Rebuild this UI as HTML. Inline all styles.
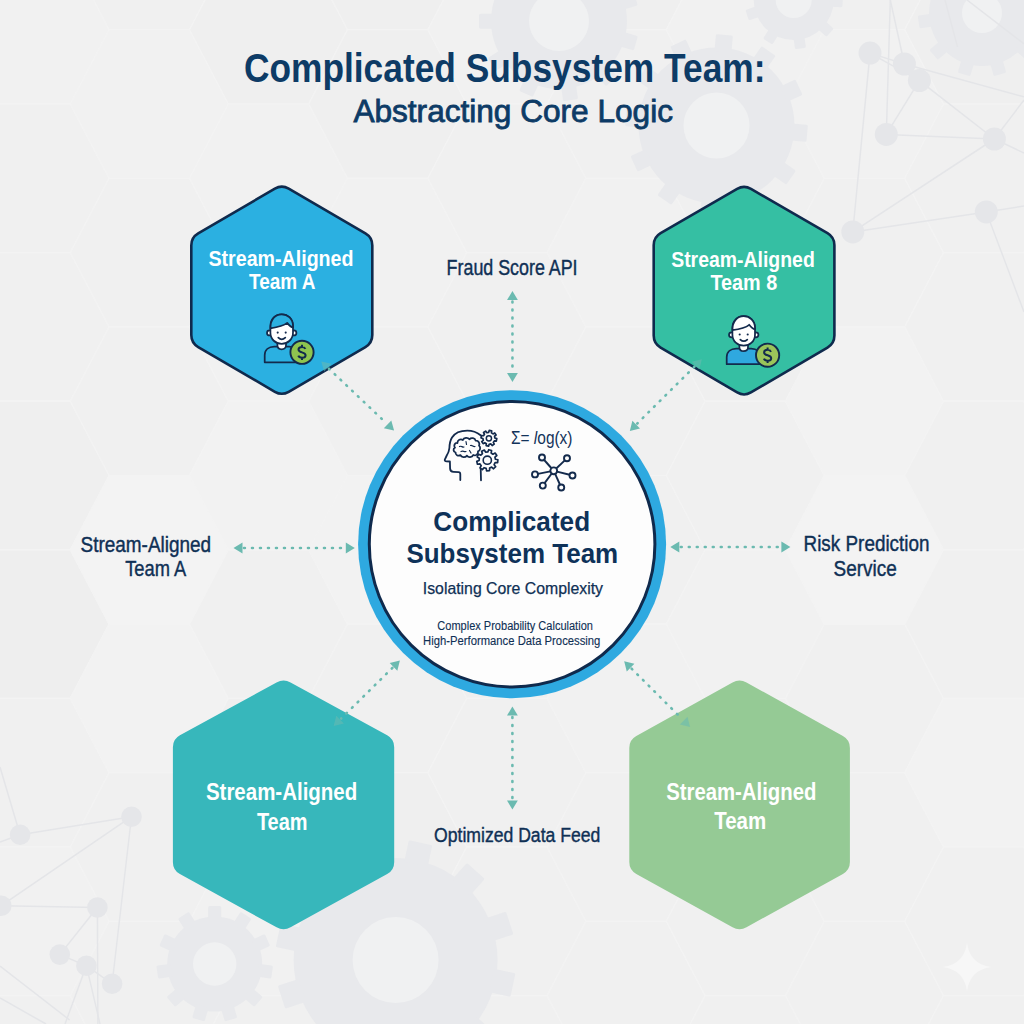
<!DOCTYPE html>
<html><head><meta charset="utf-8"><title>Complicated Subsystem Team</title>
<style>html,body{margin:0;padding:0;width:1024px;height:1024px;overflow:hidden;background:#f0f0f0;font-family:"Liberation Sans",sans-serif}svg{display:block}</style>
</head><body>
<svg width="1024" height="1024" viewBox="0 0 1024 1024" font-family="Liberation Sans, sans-serif">
<rect width="1024" height="1024" fill="#f0f0f0"/>
<g stroke="#f3f3f3" stroke-width="1.2" fill="none">
<polygon points="-48.9,29.7 -10.1,-44.6 70.3,-44.6 109.1,29.7 70.3,104.0 -10.1,104.0" fill="#f1f1f1"/>
<polygon points="-48.9,178.3 -10.1,104.0 70.3,104.0 109.1,178.3 70.3,252.6 -10.1,252.6" fill="#f0f0f0"/>
<polygon points="-48.9,326.9 -10.1,252.6 70.3,252.6 109.1,326.9 70.3,401.2 -10.1,401.2" fill="#f0f0f0"/>
<polygon points="-48.9,475.5 -10.1,401.2 70.3,401.2 109.1,475.5 70.3,549.8 -10.1,549.8" fill="#efefef"/>
<polygon points="-48.9,624.1 -10.1,549.8 70.3,549.8 109.1,624.1 70.3,698.4 -10.1,698.4" fill="#eeeeee"/>
<polygon points="-48.9,772.7 -10.1,698.4 70.3,698.4 109.1,772.7 70.3,847.0 -10.1,847.0" fill="#f0f0f0"/>
<polygon points="-48.9,921.3 -10.1,847.0 70.3,847.0 109.1,921.3 70.3,995.6 -10.1,995.6" fill="#f1f1f1"/>
<polygon points="-48.9,1069.9 -10.1,995.6 70.3,995.6 109.1,1069.9 70.3,1144.2 -10.1,1144.2" fill="#f0f0f0"/>
<polygon points="70.3,-44.6 109.1,-118.9 189.5,-118.9 228.3,-44.6 189.5,29.7 109.1,29.7" fill="#f0f0f0"/>
<polygon points="70.3,104.0 109.1,29.7 189.5,29.7 228.3,104.0 189.5,178.3 109.1,178.3" fill="#f1f1f1"/>
<polygon points="70.3,252.6 109.1,178.3 189.5,178.3 228.3,252.6 189.5,326.9 109.1,326.9" fill="#f0f0f0"/>
<polygon points="70.3,401.2 109.1,326.9 189.5,326.9 228.3,401.2 189.5,475.5 109.1,475.5" fill="#f0f0f0"/>
<polygon points="70.3,549.8 109.1,475.5 189.5,475.5 228.3,549.8 189.5,624.1 109.1,624.1" fill="#f3f3f3"/>
<polygon points="70.3,698.4 109.1,624.1 189.5,624.1 228.3,698.4 189.5,772.7 109.1,772.7" fill="#f2f2f2"/>
<polygon points="70.3,847.0 109.1,772.7 189.5,772.7 228.3,847.0 189.5,921.3 109.1,921.3" fill="#f0f0f0"/>
<polygon points="70.3,995.6 109.1,921.3 189.5,921.3 228.3,995.6 189.5,1069.9 109.1,1069.9" fill="#f0f0f0"/>
<polygon points="189.5,29.7 228.3,-44.6 308.7,-44.6 347.5,29.7 308.7,104.0 228.3,104.0" fill="#efefef"/>
<polygon points="189.5,178.3 228.3,104.0 308.7,104.0 347.5,178.3 308.7,252.6 228.3,252.6" fill="#f1f1f1"/>
<polygon points="189.5,326.9 228.3,252.6 308.7,252.6 347.5,326.9 308.7,401.2 228.3,401.2" fill="#f1f1f1"/>
<polygon points="189.5,475.5 228.3,401.2 308.7,401.2 347.5,475.5 308.7,549.8 228.3,549.8" fill="#f2f2f2"/>
<polygon points="189.5,624.1 228.3,549.8 308.7,549.8 347.5,624.1 308.7,698.4 228.3,698.4" fill="#f0f0f0"/>
<polygon points="189.5,772.7 228.3,698.4 308.7,698.4 347.5,772.7 308.7,847.0 228.3,847.0" fill="#efefef"/>
<polygon points="189.5,921.3 228.3,847.0 308.7,847.0 347.5,921.3 308.7,995.6 228.3,995.6" fill="#f1f1f1"/>
<polygon points="189.5,1069.9 228.3,995.6 308.7,995.6 347.5,1069.9 308.7,1144.2 228.3,1144.2" fill="#f0f0f0"/>
<polygon points="308.7,-44.6 347.5,-118.9 427.9,-118.9 466.7,-44.6 427.9,29.7 347.5,29.7" fill="#efefef"/>
<polygon points="308.7,104.0 347.5,29.7 427.9,29.7 466.7,104.0 427.9,178.3 347.5,178.3" fill="#efefef"/>
<polygon points="308.7,252.6 347.5,178.3 427.9,178.3 466.7,252.6 427.9,326.9 347.5,326.9" fill="#f1f1f1"/>
<polygon points="308.7,401.2 347.5,326.9 427.9,326.9 466.7,401.2 427.9,475.5 347.5,475.5" fill="#f0f0f0"/>
<polygon points="308.7,549.8 347.5,475.5 427.9,475.5 466.7,549.8 427.9,624.1 347.5,624.1" fill="#f2f2f2"/>
<polygon points="308.7,698.4 347.5,624.1 427.9,624.1 466.7,698.4 427.9,772.7 347.5,772.7" fill="#f0f0f0"/>
<polygon points="308.7,847.0 347.5,772.7 427.9,772.7 466.7,847.0 427.9,921.3 347.5,921.3" fill="#efefef"/>
<polygon points="308.7,995.6 347.5,921.3 427.9,921.3 466.7,995.6 427.9,1069.9 347.5,1069.9" fill="#f0f0f0"/>
<polygon points="427.9,29.7 466.7,-44.6 547.1,-44.6 585.9,29.7 547.1,104.0 466.7,104.0" fill="#f1f1f1"/>
<polygon points="427.9,178.3 466.7,104.0 547.1,104.0 585.9,178.3 547.1,252.6 466.7,252.6" fill="#f0f0f0"/>
<polygon points="427.9,326.9 466.7,252.6 547.1,252.6 585.9,326.9 547.1,401.2 466.7,401.2" fill="#f0f0f0"/>
<polygon points="427.9,475.5 466.7,401.2 547.1,401.2 585.9,475.5 547.1,549.8 466.7,549.8" fill="#f0f0f0"/>
<polygon points="427.9,624.1 466.7,549.8 547.1,549.8 585.9,624.1 547.1,698.4 466.7,698.4" fill="#efefef"/>
<polygon points="427.9,772.7 466.7,698.4 547.1,698.4 585.9,772.7 547.1,847.0 466.7,847.0" fill="#f0f0f0"/>
<polygon points="427.9,921.3 466.7,847.0 547.1,847.0 585.9,921.3 547.1,995.6 466.7,995.6" fill="#f0f0f0"/>
<polygon points="427.9,1069.9 466.7,995.6 547.1,995.6 585.9,1069.9 547.1,1144.2 466.7,1144.2" fill="#f0f0f0"/>
<polygon points="547.1,-44.6 585.9,-118.9 666.3,-118.9 705.1,-44.6 666.3,29.7 585.9,29.7" fill="#efefef"/>
<polygon points="547.1,104.0 585.9,29.7 666.3,29.7 705.1,104.0 666.3,178.3 585.9,178.3" fill="#f0f0f0"/>
<polygon points="547.1,252.6 585.9,178.3 666.3,178.3 705.1,252.6 666.3,326.9 585.9,326.9" fill="#f1f1f1"/>
<polygon points="547.1,401.2 585.9,326.9 666.3,326.9 705.1,401.2 666.3,475.5 585.9,475.5" fill="#f0f0f0"/>
<polygon points="547.1,549.8 585.9,475.5 666.3,475.5 705.1,549.8 666.3,624.1 585.9,624.1" fill="#f0f0f0"/>
<polygon points="547.1,698.4 585.9,624.1 666.3,624.1 705.1,698.4 666.3,772.7 585.9,772.7" fill="#f1f1f1"/>
<polygon points="547.1,847.0 585.9,772.7 666.3,772.7 705.1,847.0 666.3,921.3 585.9,921.3" fill="#f0f0f0"/>
<polygon points="547.1,995.6 585.9,921.3 666.3,921.3 705.1,995.6 666.3,1069.9 585.9,1069.9" fill="#f0f0f0"/>
<polygon points="666.3,29.7 705.1,-44.6 785.5,-44.6 824.3,29.7 785.5,104.0 705.1,104.0" fill="#f1f1f1"/>
<polygon points="666.3,178.3 705.1,104.0 785.5,104.0 824.3,178.3 785.5,252.6 705.1,252.6" fill="#f0f0f0"/>
<polygon points="666.3,326.9 705.1,252.6 785.5,252.6 824.3,326.9 785.5,401.2 705.1,401.2" fill="#efefef"/>
<polygon points="666.3,475.5 705.1,401.2 785.5,401.2 824.3,475.5 785.5,549.8 705.1,549.8" fill="#f0f0f0"/>
<polygon points="666.3,624.1 705.1,549.8 785.5,549.8 824.3,624.1 785.5,698.4 705.1,698.4" fill="#f1f1f1"/>
<polygon points="666.3,772.7 705.1,698.4 785.5,698.4 824.3,772.7 785.5,847.0 705.1,847.0" fill="#f0f0f0"/>
<polygon points="666.3,921.3 705.1,847.0 785.5,847.0 824.3,921.3 785.5,995.6 705.1,995.6" fill="#f0f0f0"/>
<polygon points="666.3,1069.9 705.1,995.6 785.5,995.6 824.3,1069.9 785.5,1144.2 705.1,1144.2" fill="#f0f0f0"/>
<polygon points="785.5,-44.6 824.3,-118.9 904.7,-118.9 943.5,-44.6 904.7,29.7 824.3,29.7" fill="#f0f0f0"/>
<polygon points="785.5,104.0 824.3,29.7 904.7,29.7 943.5,104.0 904.7,178.3 824.3,178.3" fill="#f1f1f1"/>
<polygon points="785.5,252.6 824.3,178.3 904.7,178.3 943.5,252.6 904.7,326.9 824.3,326.9" fill="#f0f0f0"/>
<polygon points="785.5,401.2 824.3,326.9 904.7,326.9 943.5,401.2 904.7,475.5 824.3,475.5" fill="#f2f2f2"/>
<polygon points="785.5,549.8 824.3,475.5 904.7,475.5 943.5,549.8 904.7,624.1 824.3,624.1" fill="#f3f3f3"/>
<polygon points="785.5,698.4 824.3,624.1 904.7,624.1 943.5,698.4 904.7,772.7 824.3,772.7" fill="#f0f0f0"/>
<polygon points="785.5,847.0 824.3,772.7 904.7,772.7 943.5,847.0 904.7,921.3 824.3,921.3" fill="#f0f0f0"/>
<polygon points="785.5,995.6 824.3,921.3 904.7,921.3 943.5,995.6 904.7,1069.9 824.3,1069.9" fill="#f0f0f0"/>
<polygon points="904.7,29.7 943.5,-44.6 1023.9,-44.6 1062.7,29.7 1023.9,104.0 943.5,104.0" fill="#efefef"/>
<polygon points="904.7,178.3 943.5,104.0 1023.9,104.0 1062.7,178.3 1023.9,252.6 943.5,252.6" fill="#f0f0f0"/>
<polygon points="904.7,326.9 943.5,252.6 1023.9,252.6 1062.7,326.9 1023.9,401.2 943.5,401.2" fill="#f0f0f0"/>
<polygon points="904.7,475.5 943.5,401.2 1023.9,401.2 1062.7,475.5 1023.9,549.8 943.5,549.8" fill="#f0f0f0"/>
<polygon points="904.7,624.1 943.5,549.8 1023.9,549.8 1062.7,624.1 1023.9,698.4 943.5,698.4" fill="#f0f0f0"/>
<polygon points="904.7,772.7 943.5,698.4 1023.9,698.4 1062.7,772.7 1023.9,847.0 943.5,847.0" fill="#f2f2f2"/>
<polygon points="904.7,921.3 943.5,847.0 1023.9,847.0 1062.7,921.3 1023.9,995.6 943.5,995.6" fill="#f0f0f0"/>
<polygon points="904.7,1069.9 943.5,995.6 1023.9,995.6 1062.7,1069.9 1023.9,1144.2 943.5,1144.2" fill="#f0f0f0"/>
<polygon points="1023.9,-44.6 1062.7,-118.9 1143.1,-118.9 1181.9,-44.6 1143.1,29.7 1062.7,29.7" fill="#f0f0f0"/>
<polygon points="1023.9,104.0 1062.7,29.7 1143.1,29.7 1181.9,104.0 1143.1,178.3 1062.7,178.3" fill="#f1f1f1"/>
<polygon points="1023.9,252.6 1062.7,178.3 1143.1,178.3 1181.9,252.6 1143.1,326.9 1062.7,326.9" fill="#f0f0f0"/>
<polygon points="1023.9,401.2 1062.7,326.9 1143.1,326.9 1181.9,401.2 1143.1,475.5 1062.7,475.5" fill="#efefef"/>
<polygon points="1023.9,549.8 1062.7,475.5 1143.1,475.5 1181.9,549.8 1143.1,624.1 1062.7,624.1" fill="#f0f0f0"/>
<polygon points="1023.9,698.4 1062.7,624.1 1143.1,624.1 1181.9,698.4 1143.1,772.7 1062.7,772.7" fill="#f0f0f0"/>
<polygon points="1023.9,847.0 1062.7,772.7 1143.1,772.7 1181.9,847.0 1143.1,921.3 1062.7,921.3" fill="#f1f1f1"/>
<polygon points="1023.9,995.6 1062.7,921.3 1143.1,921.3 1181.9,995.6 1143.1,1069.9 1062.7,1069.9" fill="#f0f0f0"/>
</g>
<g opacity="1.00">
<circle cx="559.00" cy="21.00" r="68.00" fill="#e8e9ec"/>
<rect x="551.50" y="-59.00" width="15.00" height="16.00" rx="1.5" fill="#e8e9ec" transform="rotate(8.00 559.00 21.00)"/>
<rect x="551.50" y="-59.00" width="15.00" height="16.00" rx="1.5" fill="#e8e9ec" transform="rotate(40.73 559.00 21.00)"/>
<rect x="551.50" y="-59.00" width="15.00" height="16.00" rx="1.5" fill="#e8e9ec" transform="rotate(73.45 559.00 21.00)"/>
<rect x="551.50" y="-59.00" width="15.00" height="16.00" rx="1.5" fill="#e8e9ec" transform="rotate(106.18 559.00 21.00)"/>
<rect x="551.50" y="-59.00" width="15.00" height="16.00" rx="1.5" fill="#e8e9ec" transform="rotate(138.91 559.00 21.00)"/>
<rect x="551.50" y="-59.00" width="15.00" height="16.00" rx="1.5" fill="#e8e9ec" transform="rotate(171.64 559.00 21.00)"/>
<rect x="551.50" y="-59.00" width="15.00" height="16.00" rx="1.5" fill="#e8e9ec" transform="rotate(204.36 559.00 21.00)"/>
<rect x="551.50" y="-59.00" width="15.00" height="16.00" rx="1.5" fill="#e8e9ec" transform="rotate(237.09 559.00 21.00)"/>
<rect x="551.50" y="-59.00" width="15.00" height="16.00" rx="1.5" fill="#e8e9ec" transform="rotate(269.82 559.00 21.00)"/>
<rect x="551.50" y="-59.00" width="15.00" height="16.00" rx="1.5" fill="#e8e9ec" transform="rotate(302.55 559.00 21.00)"/>
<rect x="551.50" y="-59.00" width="15.00" height="16.00" rx="1.5" fill="#e8e9ec" transform="rotate(335.27 559.00 21.00)"/>
<circle cx="559.00" cy="21.00" r="30.00" fill="#f0f1f2"/>
</g>
<g opacity="1.00">
<circle cx="716.50" cy="125.50" r="78.00" fill="#e8e9ec"/>
<rect x="708.00" y="34.50" width="17.00" height="17.00" rx="1.5" fill="#e8e9ec" transform="rotate(5.00 716.50 125.50)"/>
<rect x="708.00" y="34.50" width="17.00" height="17.00" rx="1.5" fill="#e8e9ec" transform="rotate(35.00 716.50 125.50)"/>
<rect x="708.00" y="34.50" width="17.00" height="17.00" rx="1.5" fill="#e8e9ec" transform="rotate(65.00 716.50 125.50)"/>
<rect x="708.00" y="34.50" width="17.00" height="17.00" rx="1.5" fill="#e8e9ec" transform="rotate(95.00 716.50 125.50)"/>
<rect x="708.00" y="34.50" width="17.00" height="17.00" rx="1.5" fill="#e8e9ec" transform="rotate(125.00 716.50 125.50)"/>
<rect x="708.00" y="34.50" width="17.00" height="17.00" rx="1.5" fill="#e8e9ec" transform="rotate(155.00 716.50 125.50)"/>
<rect x="708.00" y="34.50" width="17.00" height="17.00" rx="1.5" fill="#e8e9ec" transform="rotate(185.00 716.50 125.50)"/>
<rect x="708.00" y="34.50" width="17.00" height="17.00" rx="1.5" fill="#e8e9ec" transform="rotate(215.00 716.50 125.50)"/>
<rect x="708.00" y="34.50" width="17.00" height="17.00" rx="1.5" fill="#e8e9ec" transform="rotate(245.00 716.50 125.50)"/>
<rect x="708.00" y="34.50" width="17.00" height="17.00" rx="1.5" fill="#e8e9ec" transform="rotate(275.00 716.50 125.50)"/>
<rect x="708.00" y="34.50" width="17.00" height="17.00" rx="1.5" fill="#e8e9ec" transform="rotate(305.00 716.50 125.50)"/>
<rect x="708.00" y="34.50" width="17.00" height="17.00" rx="1.5" fill="#e8e9ec" transform="rotate(335.00 716.50 125.50)"/>
<circle cx="716.50" cy="125.50" r="33.00" fill="#f0f1f2"/>
</g>
<g opacity="1.00">
<circle cx="793.70" cy="0.00" r="40.00" fill="#e8e9ec"/>
<rect x="788.20" y="-49.00" width="11.00" height="13.00" rx="1.5" fill="#e8e9ec" transform="rotate(12.00 793.70 0.00)"/>
<rect x="788.20" y="-49.00" width="11.00" height="13.00" rx="1.5" fill="#e8e9ec" transform="rotate(52.00 793.70 0.00)"/>
<rect x="788.20" y="-49.00" width="11.00" height="13.00" rx="1.5" fill="#e8e9ec" transform="rotate(92.00 793.70 0.00)"/>
<rect x="788.20" y="-49.00" width="11.00" height="13.00" rx="1.5" fill="#e8e9ec" transform="rotate(132.00 793.70 0.00)"/>
<rect x="788.20" y="-49.00" width="11.00" height="13.00" rx="1.5" fill="#e8e9ec" transform="rotate(172.00 793.70 0.00)"/>
<rect x="788.20" y="-49.00" width="11.00" height="13.00" rx="1.5" fill="#e8e9ec" transform="rotate(212.00 793.70 0.00)"/>
<rect x="788.20" y="-49.00" width="11.00" height="13.00" rx="1.5" fill="#e8e9ec" transform="rotate(252.00 793.70 0.00)"/>
<rect x="788.20" y="-49.00" width="11.00" height="13.00" rx="1.5" fill="#e8e9ec" transform="rotate(292.00 793.70 0.00)"/>
<rect x="788.20" y="-49.00" width="11.00" height="13.00" rx="1.5" fill="#e8e9ec" transform="rotate(332.00 793.70 0.00)"/>
<circle cx="793.70" cy="0.00" r="18.00" fill="#f0f1f2"/>
</g>
<g opacity="1.00">
<circle cx="982.00" cy="13.00" r="53.00" fill="#e8e9ec"/>
<rect x="975.50" y="-51.00" width="13.00" height="15.00" rx="1.5" fill="#e8e9ec" transform="rotate(0.00 982.00 13.00)"/>
<rect x="975.50" y="-51.00" width="13.00" height="15.00" rx="1.5" fill="#e8e9ec" transform="rotate(32.73 982.00 13.00)"/>
<rect x="975.50" y="-51.00" width="13.00" height="15.00" rx="1.5" fill="#e8e9ec" transform="rotate(65.45 982.00 13.00)"/>
<rect x="975.50" y="-51.00" width="13.00" height="15.00" rx="1.5" fill="#e8e9ec" transform="rotate(98.18 982.00 13.00)"/>
<rect x="975.50" y="-51.00" width="13.00" height="15.00" rx="1.5" fill="#e8e9ec" transform="rotate(130.91 982.00 13.00)"/>
<rect x="975.50" y="-51.00" width="13.00" height="15.00" rx="1.5" fill="#e8e9ec" transform="rotate(163.64 982.00 13.00)"/>
<rect x="975.50" y="-51.00" width="13.00" height="15.00" rx="1.5" fill="#e8e9ec" transform="rotate(196.36 982.00 13.00)"/>
<rect x="975.50" y="-51.00" width="13.00" height="15.00" rx="1.5" fill="#e8e9ec" transform="rotate(229.09 982.00 13.00)"/>
<rect x="975.50" y="-51.00" width="13.00" height="15.00" rx="1.5" fill="#e8e9ec" transform="rotate(261.82 982.00 13.00)"/>
<rect x="975.50" y="-51.00" width="13.00" height="15.00" rx="1.5" fill="#e8e9ec" transform="rotate(294.55 982.00 13.00)"/>
<rect x="975.50" y="-51.00" width="13.00" height="15.00" rx="1.5" fill="#e8e9ec" transform="rotate(327.27 982.00 13.00)"/>
<circle cx="982.00" cy="13.00" r="20.00" fill="#f0f1f2"/>
</g>
<g opacity="1.00">
<circle cx="395.60" cy="960.10" r="102.00" fill="#e8e9ec"/>
<rect x="383.60" y="840.10" width="24.00" height="22.00" rx="1.5" fill="#e8e9ec" transform="rotate(12.00 395.60 960.10)"/>
<rect x="383.60" y="840.10" width="24.00" height="22.00" rx="1.5" fill="#e8e9ec" transform="rotate(42.00 395.60 960.10)"/>
<rect x="383.60" y="840.10" width="24.00" height="22.00" rx="1.5" fill="#e8e9ec" transform="rotate(72.00 395.60 960.10)"/>
<rect x="383.60" y="840.10" width="24.00" height="22.00" rx="1.5" fill="#e8e9ec" transform="rotate(102.00 395.60 960.10)"/>
<rect x="383.60" y="840.10" width="24.00" height="22.00" rx="1.5" fill="#e8e9ec" transform="rotate(132.00 395.60 960.10)"/>
<rect x="383.60" y="840.10" width="24.00" height="22.00" rx="1.5" fill="#e8e9ec" transform="rotate(162.00 395.60 960.10)"/>
<rect x="383.60" y="840.10" width="24.00" height="22.00" rx="1.5" fill="#e8e9ec" transform="rotate(192.00 395.60 960.10)"/>
<rect x="383.60" y="840.10" width="24.00" height="22.00" rx="1.5" fill="#e8e9ec" transform="rotate(222.00 395.60 960.10)"/>
<rect x="383.60" y="840.10" width="24.00" height="22.00" rx="1.5" fill="#e8e9ec" transform="rotate(252.00 395.60 960.10)"/>
<rect x="383.60" y="840.10" width="24.00" height="22.00" rx="1.5" fill="#e8e9ec" transform="rotate(282.00 395.60 960.10)"/>
<rect x="383.60" y="840.10" width="24.00" height="22.00" rx="1.5" fill="#e8e9ec" transform="rotate(312.00 395.60 960.10)"/>
<rect x="383.60" y="840.10" width="24.00" height="22.00" rx="1.5" fill="#e8e9ec" transform="rotate(342.00 395.60 960.10)"/>
<circle cx="395.60" cy="960.10" r="43.00" fill="#f0f1f2"/>
</g>
<g opacity="1.00">
<circle cx="214.70" cy="964.00" r="47.50" fill="#e8e9ec"/>
<rect x="208.20" y="906.00" width="13.00" height="14.50" rx="1.5" fill="#e8e9ec" transform="rotate(0.00 214.70 964.00)"/>
<rect x="208.20" y="906.00" width="13.00" height="14.50" rx="1.5" fill="#e8e9ec" transform="rotate(32.73 214.70 964.00)"/>
<rect x="208.20" y="906.00" width="13.00" height="14.50" rx="1.5" fill="#e8e9ec" transform="rotate(65.45 214.70 964.00)"/>
<rect x="208.20" y="906.00" width="13.00" height="14.50" rx="1.5" fill="#e8e9ec" transform="rotate(98.18 214.70 964.00)"/>
<rect x="208.20" y="906.00" width="13.00" height="14.50" rx="1.5" fill="#e8e9ec" transform="rotate(130.91 214.70 964.00)"/>
<rect x="208.20" y="906.00" width="13.00" height="14.50" rx="1.5" fill="#e8e9ec" transform="rotate(163.64 214.70 964.00)"/>
<rect x="208.20" y="906.00" width="13.00" height="14.50" rx="1.5" fill="#e8e9ec" transform="rotate(196.36 214.70 964.00)"/>
<rect x="208.20" y="906.00" width="13.00" height="14.50" rx="1.5" fill="#e8e9ec" transform="rotate(229.09 214.70 964.00)"/>
<rect x="208.20" y="906.00" width="13.00" height="14.50" rx="1.5" fill="#e8e9ec" transform="rotate(261.82 214.70 964.00)"/>
<rect x="208.20" y="906.00" width="13.00" height="14.50" rx="1.5" fill="#e8e9ec" transform="rotate(294.55 214.70 964.00)"/>
<rect x="208.20" y="906.00" width="13.00" height="14.50" rx="1.5" fill="#e8e9ec" transform="rotate(327.27 214.70 964.00)"/>
<circle cx="214.70" cy="964.00" r="21.70" fill="#f0f1f2"/>
</g>
<g stroke="#e4e5e8" stroke-width="1.50" fill="none">
<line x1="870.0" y1="53.1" x2="852.8" y2="231.9"/>
<line x1="870.0" y1="53.1" x2="904.4" y2="64.0"/>
<line x1="904.4" y1="64.0" x2="919.4" y2="80.6"/>
<line x1="870.0" y1="53.1" x2="919.4" y2="80.6"/>
<line x1="919.4" y1="80.6" x2="994.4" y2="139.0"/>
<line x1="919.4" y1="80.6" x2="886.3" y2="134.4"/>
<line x1="886.3" y1="134.4" x2="994.4" y2="139.0"/>
<line x1="852.8" y1="231.9" x2="994.4" y2="139.0"/>
<line x1="852.8" y1="231.9" x2="986.3" y2="211.9"/>
<line x1="890.3" y1="0.0" x2="886.3" y2="134.4"/>
<line x1="890.3" y1="0.0" x2="904.4" y2="64.0"/>
<line x1="904.4" y1="64.0" x2="1024.0" y2="96.9"/>
<line x1="994.4" y1="139.0" x2="1024.0" y2="100.0"/>
<line x1="994.4" y1="139.0" x2="1024.0" y2="153.0"/>
<line x1="986.3" y1="211.9" x2="1024.0" y2="206.0"/>
<line x1="986.3" y1="211.9" x2="1024.0" y2="312.0"/>
<line x1="967.0" y1="0.0" x2="1024.0" y2="43.8"/>
<line x1="945.0" y1="0.0" x2="957.5" y2="46.9"/>
</g>
<g fill="#e5e6e9">
<circle cx="870.0" cy="53.1" r="11.5"/>
<circle cx="904.4" cy="64.0" r="11.5"/>
<circle cx="919.4" cy="80.6" r="11.5"/>
<circle cx="886.3" cy="134.4" r="11.5"/>
<circle cx="994.4" cy="139.0" r="11.5"/>
<circle cx="852.8" cy="231.9" r="11.5"/>
<circle cx="986.3" cy="211.9" r="11.5"/>
</g>
<g stroke="#e4e5e8" stroke-width="1.50" fill="none">
<line x1="20.1" y1="834.8" x2="131.5" y2="816.7"/>
<line x1="131.5" y1="816.7" x2="1.3" y2="905.7"/>
<line x1="131.5" y1="816.7" x2="112.1" y2="983.8"/>
<line x1="1.3" y1="905.7" x2="97.4" y2="907.5"/>
<line x1="97.4" y1="907.5" x2="59.8" y2="954.6"/>
<line x1="59.8" y1="954.6" x2="86.4" y2="965.7"/>
<line x1="86.4" y1="965.7" x2="112.1" y2="983.8"/>
<line x1="97.4" y1="907.5" x2="97.9" y2="1024.0"/>
<line x1="20.1" y1="834.8" x2="0.0" y2="767.0"/>
<line x1="0.0" y1="842.0" x2="20.1" y2="834.8"/>
<line x1="86.4" y1="965.7" x2="65.0" y2="1024.0"/>
<line x1="86.4" y1="965.7" x2="100.0" y2="1024.0"/>
<line x1="0.0" y1="966.0" x2="69.6" y2="1020.0"/>
<line x1="0.0" y1="998.0" x2="46.0" y2="1024.0"/>
</g>
<g fill="#e5e6e9">
<circle cx="20.1" cy="834.8" r="10.3"/>
<circle cx="131.5" cy="816.7" r="10.3"/>
<circle cx="1.3" cy="905.7" r="10.3"/>
<circle cx="97.4" cy="907.5" r="10.3"/>
<circle cx="59.8" cy="954.6" r="10.3"/>
<circle cx="86.4" cy="965.7" r="10.3"/>
<circle cx="112.1" cy="983.8" r="10.3"/>
</g>
<path d="M967 943 C969 957 977 965 991 967 C977 969 969 977 967 991 C965 977 957 969 943 967 C957 965 965 957 967 943 Z" fill="#f7f7f7"/>
<path d="M274.89 188.64 Q281.80 184.60 288.71 188.64 L365.39 233.46 Q372.30 237.50 372.30 245.50 L372.30 335.00 Q372.30 343.00 365.39 347.03 L288.71 391.77 Q281.80 395.80 274.89 391.77 L198.21 347.03 Q191.30 343.00 191.30 335.00 L191.30 245.50 Q191.30 237.50 198.21 233.46 Z" fill="#2bb0e1" stroke="#0f2a4d" stroke-width="2.6"/>
<path d="M737.13 188.91 Q744.05 184.90 750.97 188.91 L827.48 233.19 Q834.40 237.20 834.40 245.20 L834.40 335.60 Q834.40 343.60 827.50 347.64 L750.95 392.46 Q744.05 396.50 737.15 392.46 L660.60 347.64 Q653.70 343.60 653.70 335.60 L653.70 245.20 Q653.70 237.20 660.62 233.19 Z" fill="#35bfa3" stroke="#0f2a4d" stroke-width="2.6"/>
<path d="M276.53 682.44 Q283.55 678.60 290.57 682.44 L387.18 735.36 Q394.20 739.20 394.20 747.20 L394.20 862.20 Q394.20 870.20 387.19 874.06 L290.56 927.34 Q283.55 931.20 276.54 927.34 L179.91 874.06 Q172.90 870.20 172.90 862.20 L172.90 747.20 Q172.90 739.20 179.92 735.36 Z" fill="#37b7bb"/>
<path d="M732.51 682.49 Q739.50 678.60 746.49 682.49 L842.91 736.11 Q849.90 740.00 849.90 748.00 L849.90 862.00 Q849.90 870.00 842.90 873.88 L746.50 927.32 Q739.50 931.20 732.51 927.32 L636.29 873.88 Q629.30 870.00 629.30 862.00 L629.30 748.00 Q629.30 740.00 636.29 736.11 Z" fill="#95ca95"/>
<circle cx="512.1" cy="544.2" r="154" fill="#2ea9e0"/>
<circle cx="512.1" cy="544.2" r="142.8" fill="#fdfdfd" stroke="#0f2a4d" stroke-width="3"/>
<line x1="512.45" y1="301.50" x2="512.45" y2="371.50" stroke="#6bbab0" stroke-width="2.6" stroke-dasharray="0.9 7.1" stroke-linecap="round"/><polygon points="512.45,291.00 507.05,300.00 517.85,300.00" fill="#6bbab0" opacity="1.00"/><polygon points="512.45,382.00 507.05,373.00 517.85,373.00" fill="#6bbab0" opacity="1.00"/>
<line x1="512.40" y1="717.10" x2="512.40" y2="799.00" stroke="#6bbab0" stroke-width="2.6" stroke-dasharray="0.9 7.1" stroke-linecap="round"/><polygon points="512.40,706.60 507.00,715.60 517.80,715.60" fill="#6bbab0" opacity="1.00"/><polygon points="512.40,809.50 507.00,800.50 517.80,800.50" fill="#6bbab0" opacity="1.00"/>
<line x1="244.00" y1="548.00" x2="344.30" y2="548.00" stroke="#6bbab0" stroke-width="2.6" stroke-dasharray="0.9 7.1" stroke-linecap="round"/><polygon points="233.50,548.00 242.50,553.40 242.50,542.60" fill="#6bbab0" opacity="1.00"/><polygon points="354.80,548.00 345.80,553.40 345.80,542.60" fill="#6bbab0" opacity="1.00"/>
<line x1="680.80" y1="547.00" x2="779.90" y2="547.00" stroke="#6bbab0" stroke-width="2.6" stroke-dasharray="0.9 7.1" stroke-linecap="round"/><polygon points="670.30,547.00 679.30,552.40 679.30,541.60" fill="#6bbab0" opacity="1.00"/><polygon points="790.40,547.00 781.40,552.40 781.40,541.60" fill="#6bbab0" opacity="1.00"/>
<line x1="328.92" y1="368.73" x2="386.48" y2="423.37" stroke="#6bbab0" stroke-width="2.6" stroke-dasharray="0.9 7.1" stroke-linecap="round"/><polygon points="321.30,361.50 324.11,371.61 331.55,363.78" fill="#6bbab0" opacity="0.55"/><polygon points="394.10,430.60 383.85,428.32 391.29,420.49" fill="#6bbab0" opacity="1.00"/>
<line x1="694.45" y1="366.70" x2="637.25" y2="423.50" stroke="#6bbab0" stroke-width="2.6" stroke-dasharray="0.9 7.1" stroke-linecap="round"/><polygon points="701.90,359.30 691.71,361.81 699.32,369.47" fill="#6bbab0" opacity="0.55"/><polygon points="629.80,430.90 632.38,420.73 639.99,428.39" fill="#6bbab0" opacity="1.00"/>
<line x1="392.43" y1="667.88" x2="341.17" y2="718.52" stroke="#6bbab0" stroke-width="2.6" stroke-dasharray="0.9 7.1" stroke-linecap="round"/><polygon points="399.90,660.50 389.70,662.98 397.29,670.67" fill="#6bbab0" opacity="1.00"/><polygon points="333.70,725.90 336.31,715.73 343.90,723.42" fill="#6bbab0" opacity="0.55"/>
<line x1="631.64" y1="668.71" x2="682.66" y2="719.49" stroke="#6bbab0" stroke-width="2.6" stroke-dasharray="0.9 7.1" stroke-linecap="round"/><polygon points="624.20,661.30 626.77,671.48 634.39,663.82" fill="#6bbab0" opacity="1.00"/><polygon points="690.10,726.90 679.91,724.38 687.53,716.72" fill="#6bbab0" opacity="0.60"/>
<g transform="translate(281.70 314.30)" stroke="#132a4c" stroke-width="1.75" stroke-linejoin="round" stroke-linecap="round">
<path d="M-17 48 L-17 41 C-17 35.5 -13 32.3 -7.5 32.3 L7.5 32.3 C13 32.3 16.5 35.5 16.5 41 L16.5 48 Z" fill="#2bb0e1"/>
<path d="M-4.3 28.5 L-4.3 31 C-4.3 33.8 -2.3 35 0 35 C2.3 35 4.3 33.8 4.3 31 L4.3 28.5 Z" fill="#ffffff"/>
<circle cx="-12.2" cy="18.6" r="2.5" fill="#ffffff"/>
<circle cx="12.2" cy="18.6" r="2.5" fill="#ffffff"/>
<path d="M-11.3 12 C-11.3 4.5 -6 0 0 0 C6 0 11.3 4.5 11.3 12 L11.3 18.5 C11.3 25 6 29.5 0 29.5 C-6 29.5 -11.3 25 -11.3 18.5 Z" fill="#ffffff"/>
<path d="M-11.3 14 C-11.3 4.5 -6 0 0 0 C6 0 11.3 4.5 11.3 12 L11.3 13.2 C9 12.8 7 10.5 5.5 8.6 C2 11.5 -4 13 -11.3 14 Z" fill="#2bb0e1"/>
<circle cx="-4" cy="18.3" r="1.05" fill="#132a4c" stroke="none"/>
<circle cx="4" cy="18.3" r="1.05" fill="#132a4c" stroke="none"/>
<path d="M-3.4 23.4 Q0 26.6 3.6 23.4" fill="none"/>
</g>
<circle cx="302.00" cy="352.30" r="11.6" fill="#8fc44f" stroke="#132a4c" stroke-width="1.9"/>
<path transform="translate(302.00 352.30)" d="M3.4 -3.4 C2.8 -4.8 1.5 -5.4 0 -5.4 C-2.1 -5.4 -3.5 -4.3 -3.5 -2.8 C-3.5 -1.1 -2 -0.5 0 0.1 C2 0.7 3.6 1.3 3.6 3 C3.6 4.5 2.1 5.5 0 5.5 C-1.6 5.5 -3.1 4.9 -3.7 3.4 M0 -7.6 L0 -5.4 M0 5.5 L0 7.7" fill="none" stroke="#132a4c" stroke-width="2" stroke-linecap="butt"/>
<g transform="translate(743.70 316.20)" stroke="#132a4c" stroke-width="1.75" stroke-linejoin="round" stroke-linecap="round">
<path d="M-17 48 L-17 41 C-17 35.5 -13 32.3 -7.5 32.3 L7.5 32.3 C13 32.3 16.5 35.5 16.5 41 L16.5 48 Z" fill="#2fa8df"/>
<path d="M-4.3 28.5 L-4.3 31 C-4.3 33.8 -2.3 35 0 35 C2.3 35 4.3 33.8 4.3 31 L4.3 28.5 Z" fill="#ffffff"/>
<circle cx="-12.2" cy="18.6" r="2.5" fill="#ffffff"/>
<circle cx="12.2" cy="18.6" r="2.5" fill="#ffffff"/>
<path d="M-11.3 12 C-11.3 4.5 -6 0 0 0 C6 0 11.3 4.5 11.3 12 L11.3 18.5 C11.3 25 6 29.5 0 29.5 C-6 29.5 -11.3 25 -11.3 18.5 Z" fill="#ffffff"/>
<path d="M-11.3 14 C-11.3 4.5 -6 0 0 0 C6 0 11.3 4.5 11.3 12 L11.3 13.2 C9 12.8 7 10.5 5.5 8.6 C2 11.5 -4 13 -11.3 14 Z" fill="#ffffff"/>
<circle cx="-4" cy="18.3" r="1.05" fill="#132a4c" stroke="none"/>
<circle cx="4" cy="18.3" r="1.05" fill="#132a4c" stroke="none"/>
<path d="M-3.4 23.4 Q0 26.6 3.6 23.4" fill="none"/>
</g>
<circle cx="767.60" cy="355.20" r="11.6" fill="#9bc45a" stroke="#132a4c" stroke-width="1.9"/>
<path transform="translate(767.60 355.20)" d="M3.4 -3.4 C2.8 -4.8 1.5 -5.4 0 -5.4 C-2.1 -5.4 -3.5 -4.3 -3.5 -2.8 C-3.5 -1.1 -2 -0.5 0 0.1 C2 0.7 3.6 1.3 3.6 3 C3.6 4.5 2.1 5.5 0 5.5 C-1.6 5.5 -3.1 4.9 -3.7 3.4 M0 -7.6 L0 -5.4 M0 5.5 L0 7.7" fill="none" stroke="#132a4c" stroke-width="2" stroke-linecap="butt"/>
<g fill="none" stroke="#132a4c" stroke-width="1.8" stroke-linecap="round" stroke-linejoin="round">
<path d="M480.6 435.2 C476 431.5 471 430.6 467.3 430.6 C460 430.6 454.5 433.5 452 437.5 C449.8 441 449.5 445 449.4 448 C449.2 451 448 453.5 446.5 456 L444.8 459.6 C444.5 460.6 445.2 461.3 446.5 461.3 L449.9 461.5 L450.1 468.6 C450.2 470.8 451.5 471.8 453.5 471.9 L458.6 472.1 C459.9 472.2 460.3 473 460.3 474.3 L460.3 480"/>
<path d="M480.7 468.3 L481 480.3"/>
<path d="M455.6 452.5 C453 451.8 453 448.5 455 447.7 C453.2 445.8 454.8 442.6 457.4 443 C457.3 440 460.6 438.4 462.9 440 C463.8 437.4 467.8 437 469.4 439.3 C471.2 437.3 475 438 475.6 440.6 C478.5 440.3 480.2 443.4 479 445.6 C481 447.3 480.3 450.6 478 451.3 C478.5 454 475.8 456.2 473.3 455 C472 457.6 468.2 457.8 467 455.6 C465.2 457.8 461.5 457.6 460.5 455.1 C458 456.4 455.2 455 455.6 452.5 Z"/>
<path d="M459.5 446.5 C461.5 445.5 462 447.5 464 447 M466 441.5 L466.5 444.5 M470.5 445.5 C472.5 445 473 447 475 446.5 M461 451.5 C463 450.5 464 452 466 451.5 M469.5 450.5 L471 453" stroke-width="1.2"/>
</g>
<path d="M494.90 438.06 L496.79 438.63 L496.30 441.07 L494.33 440.85 L493.31 442.37 L494.25 444.12 L492.18 445.49 L490.93 443.94 L489.14 444.30 L488.57 446.19 L486.13 445.70 L486.35 443.73 L484.83 442.71 L483.08 443.65 L481.71 441.58 L483.26 440.33 L482.90 438.54 L481.01 437.97 L481.50 435.53 L483.47 435.75 L484.49 434.23 L483.55 432.48 L485.62 431.11 L486.87 432.66 L488.66 432.30 L489.23 430.41 L491.67 430.90 L491.45 432.87 L492.97 433.89 L494.72 432.95 L496.09 435.02 L494.54 436.27 Z" fill="#fdfdfd" stroke="#132a4c" stroke-width="1.7" stroke-linejoin="round"/>
<circle cx="488.9" cy="438.3" r="2.6" fill="none" stroke="#132a4c" stroke-width="1.5"/>
<path d="M495.45 459.28 L497.89 459.77 L497.60 462.72 L495.10 462.72 L494.14 464.73 L495.69 466.68 L493.56 468.75 L491.65 467.15 L489.62 468.06 L489.56 470.56 L486.60 470.78 L486.17 468.32 L484.03 467.72 L482.37 469.59 L479.97 467.85 L481.21 465.69 L479.96 463.86 L477.49 464.22 L476.76 461.35 L479.11 460.50 L479.33 458.28 L477.20 456.98 L478.49 454.31 L480.83 455.16 L482.43 453.61 L481.63 451.24 L484.34 450.02 L485.59 452.18 L487.80 452.02 L488.72 449.70 L491.57 450.50 L491.14 452.96 L492.95 454.25 L495.14 453.06 L496.81 455.51 L494.90 457.12 Z" fill="#fdfdfd" stroke="#132a4c" stroke-width="1.7" stroke-linejoin="round"/>
<circle cx="487.3" cy="460.2" r="4.1" fill="none" stroke="#132a4c" stroke-width="1.6"/>
<g fill="#fdfdfd" stroke="#132a4c" stroke-width="1.9">
<line x1="551.50" y1="468.25" x2="543.99" y2="459.75"/>
<line x1="556.22" y1="468.47" x2="564.82" y2="460.36"/>
<line x1="550.41" y1="471.44" x2="537.95" y2="473.83"/>
<line x1="557.05" y1="471.63" x2="569.59" y2="474.77"/>
<line x1="551.73" y1="473.53" x2="544.58" y2="483.19"/>
<line x1="555.14" y1="473.90" x2="560.02" y2="484.76"/>
<circle cx="553.75" cy="470.80" r="3.4"/>
<circle cx="542.00" cy="457.50" r="3.0"/>
<circle cx="567.00" cy="458.30" r="3.0"/>
<circle cx="535.00" cy="474.40" r="3.0"/>
<circle cx="572.50" cy="475.50" r="3.0"/>
<circle cx="542.80" cy="485.60" r="3.0"/>
<circle cx="561.25" cy="487.50" r="3.0"/>
</g>
<text x="504.70" y="82.40" font-size="40.00" font-weight="bold" fill="#0d3b66" text-anchor="middle" textLength="521.6" lengthAdjust="spacingAndGlyphs" >Complicated Subsystem Team:</text>
<text x="513.20" y="121.50" font-size="30.50" font-weight="normal" fill="#0d3b66" text-anchor="middle" textLength="319.6" lengthAdjust="spacingAndGlyphs" stroke="#0d3b66" stroke-width="0.8">Abstracting Core Logic</text>
<text x="281.00" y="266.00" font-size="22.00" font-weight="bold" fill="#ffffff" text-anchor="middle" textLength="145.0" lengthAdjust="spacingAndGlyphs" >Stream-Aligned</text>
<text x="282.20" y="289.10" font-size="22.00" font-weight="bold" fill="#ffffff" text-anchor="middle" textLength="66.4" lengthAdjust="spacingAndGlyphs" >Team A</text>
<text x="743.00" y="267.00" font-size="22.00" font-weight="bold" fill="#ffffff" text-anchor="middle" textLength="143.6" lengthAdjust="spacingAndGlyphs" >Stream-Aligned</text>
<text x="743.80" y="290.00" font-size="22.00" font-weight="bold" fill="#ffffff" text-anchor="middle" textLength="66.8" lengthAdjust="spacingAndGlyphs" >Team 8</text>
<text x="281.60" y="800.00" font-size="23.40" font-weight="bold" fill="#ffffff" text-anchor="middle" textLength="151.4" lengthAdjust="spacingAndGlyphs" >Stream-Aligned</text>
<text x="282.20" y="829.50" font-size="23.40" font-weight="bold" fill="#ffffff" text-anchor="middle" textLength="50.6" lengthAdjust="spacingAndGlyphs" >Team</text>
<text x="741.30" y="799.70" font-size="23.40" font-weight="bold" fill="#ffffff" text-anchor="middle" textLength="150.2" lengthAdjust="spacingAndGlyphs" >Stream-Aligned</text>
<text x="740.20" y="829.00" font-size="23.40" font-weight="bold" fill="#ffffff" text-anchor="middle" textLength="52.0" lengthAdjust="spacingAndGlyphs" >Team</text>
<text x="512.10" y="275.20" font-size="21.40" font-weight="normal" fill="#0f3055" text-anchor="middle" textLength="131.0" lengthAdjust="spacingAndGlyphs" stroke="#0f3055" stroke-width="0.40">Fraud Score API</text>
<text x="145.80" y="551.60" font-size="21.40" font-weight="normal" fill="#0f3055" text-anchor="middle" textLength="130.6" lengthAdjust="spacingAndGlyphs" stroke="#0f3055" stroke-width="0.40">Stream-Aligned</text>
<text x="155.70" y="576.30" font-size="21.40" font-weight="normal" fill="#0f3055" text-anchor="middle" textLength="61.0" lengthAdjust="spacingAndGlyphs" stroke="#0f3055" stroke-width="0.40">Team A</text>
<text x="866.50" y="551.00" font-size="21.40" font-weight="normal" fill="#0f3055" text-anchor="middle" textLength="126.0" lengthAdjust="spacingAndGlyphs" stroke="#0f3055" stroke-width="0.40">Risk Prediction</text>
<text x="865.20" y="575.70" font-size="21.40" font-weight="normal" fill="#0f3055" text-anchor="middle" textLength="63.2" lengthAdjust="spacingAndGlyphs" stroke="#0f3055" stroke-width="0.40">Service</text>
<text x="517.20" y="842.00" font-size="20.00" font-weight="normal" fill="#0f3055" text-anchor="middle" textLength="166.2" lengthAdjust="spacingAndGlyphs" stroke="#0f3055" stroke-width="0.40">Optimized Data Feed</text>
<text x="511.70" y="531.00" font-size="27.50" font-weight="bold" fill="#0e3259" text-anchor="middle" textLength="156.8" lengthAdjust="spacingAndGlyphs" >Complicated</text>
<text x="512.30" y="563.30" font-size="27.50" font-weight="bold" fill="#0e3259" text-anchor="middle" textLength="211.8" lengthAdjust="spacingAndGlyphs" >Subsystem Team</text>
<text x="512.90" y="593.90" font-size="16.50" font-weight="normal" fill="#0f3055" text-anchor="middle" textLength="180.2" lengthAdjust="spacingAndGlyphs" stroke="#0f3055" stroke-width="0.25">Isolating Core Complexity</text>
<text x="515.10" y="630.00" font-size="12.00" font-weight="normal" fill="#0f3055" text-anchor="middle" textLength="155.6" lengthAdjust="spacingAndGlyphs" stroke="#0f3055" stroke-width="0.12">Complex Probability Calculation</text>
<text x="511.70" y="645.20" font-size="12.00" font-weight="normal" fill="#0f3055" text-anchor="middle" textLength="177.3" lengthAdjust="spacingAndGlyphs" stroke="#0f3055" stroke-width="0.12">High-Performance Data Processing</text>
<text x="511" y="443.6" font-size="17.5" fill="#12335a" textLength="61.5" lengthAdjust="spacingAndGlyphs">&#931;=<tspan font-style="italic"> l</tspan>og(x)</text>
</svg>
</body></html>
